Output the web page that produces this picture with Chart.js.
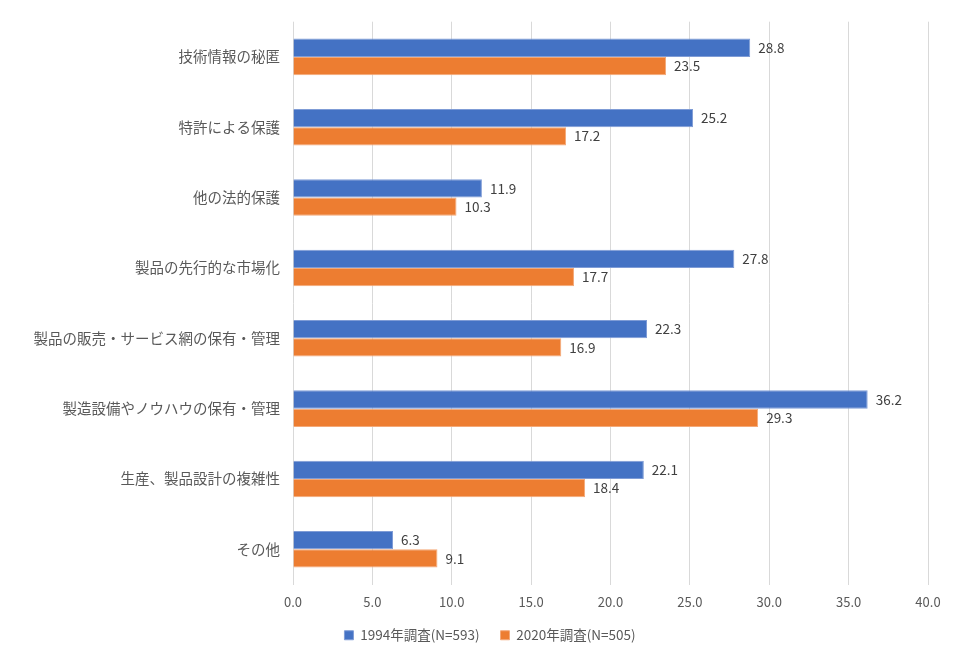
<!DOCTYPE html>
<html>
<head>
    <meta charset="utf-8">
    <title>技術流出防止策</title>
    <style>
        html, body { margin: 0; padding: 0; background: #fff; }
        #wrap { width: 961px; height: 663px; }
    </style>
    <script src="https://cdn.jsdelivr.net/npm/chart.js"></script>
</head>
<body>
<div id="wrap"><canvas id="myChart"></canvas></div>
<script>
    // 項目
    const categories = [
        '技術情報の秘匿',
        '特許による保護',
        '他の法的保護',
        '製品の先行的な市場化',
        '製品の販売・サービス網の保有・管理',
        '製造設備やノウハウの保有・管理',
        '生産、製品設計の複雑性',
        'その他'
    ];
    const survey1994 = [28.8, 25.2, 11.9, 27.8, 22.3, 36.2, 22.1, 6.3];
    const survey2020 = [23.5, 17.2, 10.3, 17.7, 16.9, 29.3, 18.4, 9.1];
    const seriesNames = ['1994年調査(N=593)', '2020年調査(N=505)'];
    const xTicks = [0, 5, 10, 15, 20, 25, 30, 35, 40];

    const fontFamily = '"Noto Sans CJK JP", "Noto Sans", sans-serif';

    // 棒の右に値を描く
    const valueLabels = {
        id: 'valueLabels',
        afterDatasetsDraw(chart) {
            const ctx = chart.ctx;
            ctx.save();
            ctx.font = '13.5px ' + fontFamily;
            ctx.fillStyle = '#404040';
            ctx.textBaseline = 'middle';
            ctx.textAlign = 'left';
            chart.data.datasets.forEach((ds, i) => {
                chart.getDatasetMeta(i).data.forEach((bar, j) => {
                    ctx.fillText(ds.data[j].toFixed(1), bar.x + 8, bar.y);
                });
            });
            ctx.restore();
        }
    };

    // 凡例を少し右へずらす
    const legendShift = {
        id: 'legendShift',
        afterLayout(chart) {
            if (chart.legend) {
                chart.legend.left += 16;
                chart.legend.right += 16;
            }
        }
    };

    new Chart(document.getElementById('myChart'), {
        type: 'bar',
        data: {
            labels: categories,
            datasets: [{
                label: seriesNames[0],
                data: survey1994,
                backgroundColor: '#4472c4',
                borderColor: '#7f9cd6',
                borderWidth: 1,
                categoryPercentage: 0.52,
                barPercentage: 1
            }, {
                label: seriesNames[1],
                data: survey2020,
                backgroundColor: '#ed7d31',
                borderColor: '#f4a978',
                borderWidth: 1,
                categoryPercentage: 0.52,
                barPercentage: 1
            }]
        },
        options: {
            indexAxis: 'y',
            responsive: true,
            maintainAspectRatio: false,
            animation: false,
            layout: { padding: { top: 16, right: 33, bottom: 11, left: 20 } },
            scales: {
                x: {
                    min: 0,
                    max: 40,
                    afterBuildTicks(scale) {
                        scale.ticks = xTicks.map(v => ({ value: v }));
                    },
                    afterFit(scale) { scale.height = 23; },
                    ticks: {
                        color: '#595959',
                        font: { family: fontFamily, size: 13 },
                        padding: 10,
                        callback: v => v.toFixed(1)
                    },
                    grid: { color: '#d9d9d9', drawTicks: false },
                    border: { display: false }
                },
                y: {
                    afterFit(scale) { scale.width = 273; },
                    ticks: {
                        color: '#595959',
                        font: { family: fontFamily, size: 14.5 },
                        padding: 13
                    },
                    grid: { display: false, drawTicks: false },
                    border: { display: false }
                }
            },
            plugins: {
                legend: {
                    position: 'bottom',
                    labels: {
                        color: '#595959',
                        font: { family: fontFamily, size: 13.5 },
                        boxWidth: 9,
                        boxHeight: 9,
                        padding: 21
                    }
                },
                tooltip: { enabled: false }
            }
        },
        plugins: [valueLabels, legendShift]
    });
</script>
</body>
</html>
